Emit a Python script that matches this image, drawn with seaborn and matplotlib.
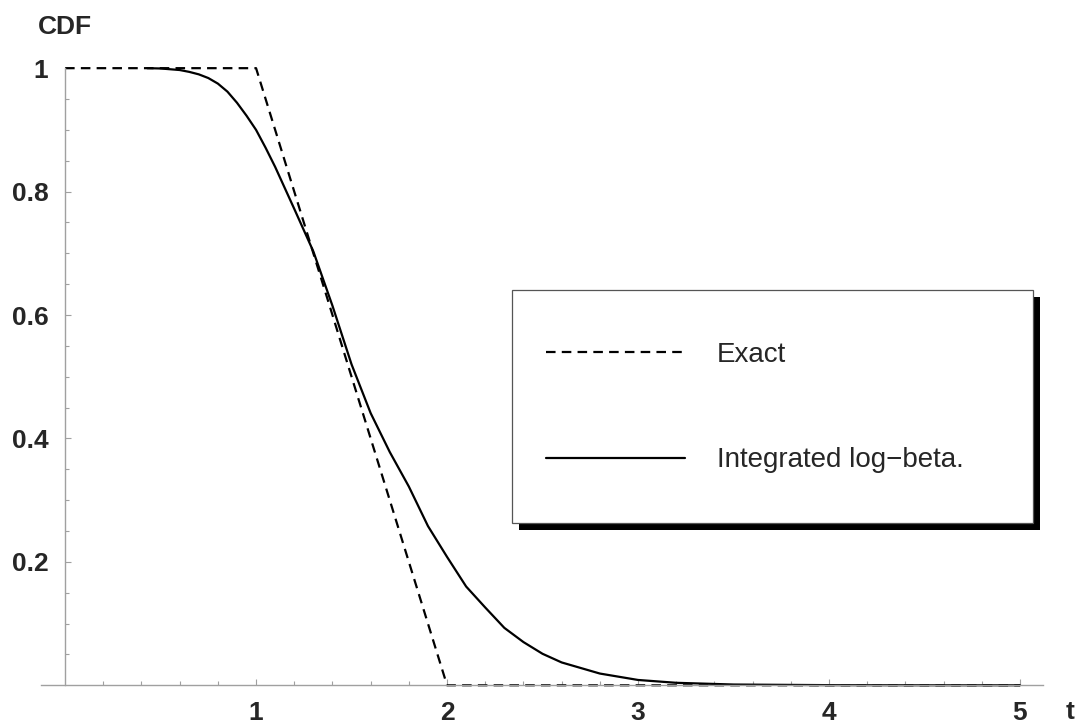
import numpy as np
import pandas as pd
import matplotlib
matplotlib.use("Agg")
import matplotlib.pyplot as plt
import matplotlib.patheffects as pe
from matplotlib.ticker import FixedLocator
import seaborn as sns

# Exact CDF (piecewise linear)
t_exact = [0.0, 1.0, 2.0, 5.0]
cdf_exact = [1.0, 1.0, 0.0, 0.0]

# Integrated log-beta approximation
t_beta = [0.43, 0.5, 0.6, 0.65, 0.7, 0.75, 0.8, 0.85, 0.9, 0.95, 1.0, 1.05,
          1.1, 1.2, 1.3, 1.4, 1.5, 1.6, 1.7, 1.8, 1.9, 2.0, 2.1, 2.2, 2.3,
          2.4, 2.5, 2.6, 2.8, 3.0, 3.2, 3.5, 4.0, 4.5, 5.0]
cdf_beta = [1.0, 0.9995, 0.997, 0.994, 0.99, 0.984, 0.975, 0.962, 0.944,
            0.923, 0.900, 0.871, 0.840, 0.772, 0.703, 0.615, 0.52, 0.441,
            0.378, 0.322, 0.258, 0.208, 0.16, 0.126, 0.093, 0.07, 0.051,
            0.037, 0.019, 0.0086, 0.004, 0.0012, 0.0002, 0.00003, 0.0]

x_major = [1, 2, 3, 4, 5]
x_labels = ["1", "2", "3", "4", "5"]
y_major = [0.2, 0.4, 0.6, 0.8, 1.0]
y_labels = ["0.2", "0.4", "0.6", "0.8", "1"]

DASH = (0, (4.3, 2.8))

sns.set_style("white")
plt.rcParams["font.family"] = ["Liberation Sans", "DejaVu Sans"]

fig = plt.figure(figsize=(10.82, 7.26), dpi=100)
ax = fig.add_axes([0.0379, 0.0561, 0.926, 0.850])

df_exact = pd.DataFrame({"t": t_exact, "cdf": cdf_exact})
df_beta = pd.DataFrame({"t": t_beta, "cdf": cdf_beta})

sns.lineplot(data=df_exact, x="t", y="cdf", ax=ax, color="black",
             linewidth=1.6, label="Exact", sort=False)
sns.lineplot(data=df_beta, x="t", y="cdf", ax=ax, color="black",
             linewidth=1.6, label="Integrated log\u2212beta.", sort=False)

lines = ax.get_lines()
lines[0].set_linestyle(DASH)
for ln in lines:
    ln.set_clip_on(False)

ax.set_xlim(-0.126, 5.12)
ax.set_ylim(0, 1.0)

axis_gray = "#a0a0a0"
for side in ("top", "right"):
    ax.spines[side].set_visible(False)
ax.spines["left"].set_position(("data", 0))
ax.spines["left"].set_bounds(0, 1)
for side in ("left", "bottom"):
    ax.spines[side].set_color(axis_gray)
    ax.spines[side].set_linewidth(1.0)

ax.xaxis.set_major_locator(FixedLocator(x_major))
ax.set_xticklabels(x_labels)
ax.xaxis.set_minor_locator(FixedLocator(
    [v for v in np.arange(0.2, 5.01, 0.2) if abs(v - round(v)) > 1e-6]))
ax.yaxis.set_major_locator(FixedLocator(y_major))
ax.set_yticklabels(y_labels)
ax.yaxis.set_minor_locator(FixedLocator(
    [v for v in np.arange(0.05, 1.0, 0.05) if abs(v * 5 - round(v * 5)) > 1e-6]))

ax.tick_params(axis="both", which="both", direction="in", color=axis_gray,
               width=0.8, bottom=True, left=True, top=False, right=False)
ax.tick_params(axis="both", which="major", length=4.5)
ax.tick_params(axis="both", which="minor", length=3)
ax.tick_params(axis="x", which="major", pad=11)
ax.tick_params(axis="y", which="major", pad=12)
for lab in ax.get_xticklabels() + ax.get_yticklabels():
    lab.set_fontsize(19)
    lab.set_fontweight("bold")

ax.set_xlabel("")
ax.set_ylabel("")
fig.text(0.060, 0.963, "CDF", fontsize=19, fontweight="bold",
         ha="center", va="center")
fig.text(0.989, 0.0193, "t", fontsize=19, fontweight="bold",
         ha="center", va="center")

leg_fs = 20
leg = ax.legend(loc="center", bbox_to_anchor=(0.470, 0.2663, 0.520, 0.3711),
                mode="expand", fontsize=leg_fs, frameon=True, fancybox=False,
                framealpha=1, borderpad=1.22, labelspacing=1.65,
                handlelength=5.0, handleheight=2.92, handletextpad=1.15,
                borderaxespad=0)
frame = leg.get_frame()
frame.set_edgecolor("#555555")
frame.set_linewidth(0.9)
frame.set_facecolor("white")
frame.set_path_effects([pe.withSimplePatchShadow(offset=(5, -5),
                                                 shadow_rgbFace="black",
                                                 alpha=1.0)])
# centre each key line on its label's mid-height
for hl in leg.get_lines():
    hl.set_ydata(np.full_like(np.asarray(hl.get_xdata(), dtype=float),
                              0.35 * leg_fs))
    hl.set_linewidth(1.6)
leg.get_lines()[0].set_linestyle(DASH)

fig.savefig("out.png", dpi=100, facecolor="white")
